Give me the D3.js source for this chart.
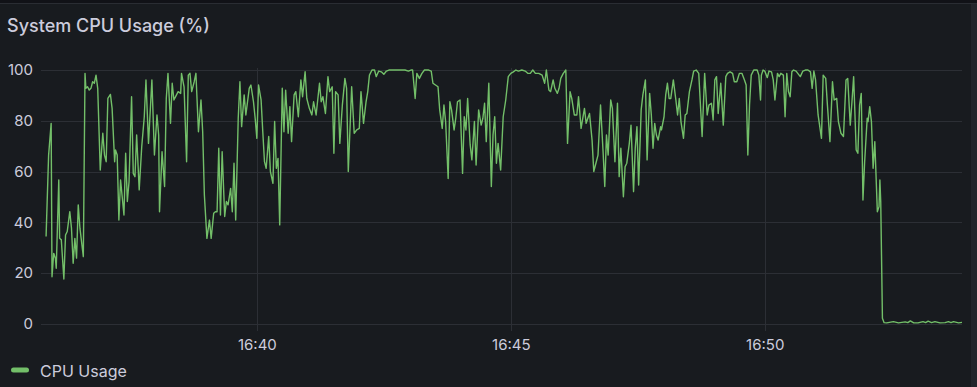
<!DOCTYPE html>
<meta charset="utf-8">
<script src="https://d3js.org/d3.v7.min.js"></script>
<style>
  body { margin: 0; background: #181b1f; overflow: hidden; }
  text { font-family: Inter, "Noto Sans", sans-serif; }
</style>
<div id="chart"></div>
<script>

// seconds after 16:35:00 for each sample, and the CPU value (%) at that moment
const secs = [51,54,57,58,60,62,63,66,67,69,72,74,76,79,81,83,85,87,89,91,95,97,98,100,102,104,106,108,110,112,
  115,118,120,122,124,127,129,132,133,135,137,139,143,145,147,149,152,154,156,158,161,164,167,169,172,176,179,182,184,185,
  188,191,193,195,198,200,202,204,207,210,211,214,217,219,221,223,226,228,231,234,236,238,241,244,246,249,251,253,255,257,
  259,262,264,266,269,271,273,275,278,280,282,285,287,291,293,296,298,300,302,305,307,309,311,314,316,319,321,323,325,327,
  330,332,334,337,339,341,344,346,349,352,354,357,359,362,365,367,370,374,376,378,381,384,386,389,391,393,396,398,401,404,
  406,408,412,415,418,421,423,426,429,431,433,436,439,441,444,447,450,453,456,459,463,467,475,479,482,484,487,489,492,495,
  498,503,506,508,511,514,516,519,521,523,526,528,530,533,535,537,540,543,545,547,549,552,554,557,559,562,565,567,569,571,
  574,577,579,581,583,585,588,591,594,597,600,603,606,609,613,617,620,623,626,629,633,637,640,642,645,647,650,652,655,657,
  659,662,665,667,670,672,675,678,680,683,685,687,689,691,693,696,698,700,703,706,709,711,713,715,718,720,723,726,728,730,
  733,735,737,740,742,745,747,749,751,754,756,759,761,764,766,768,770,772,774,777,778,781,783,785,787,789,792,795,797,799,
  801,804,806,808,811,814,816,819,822,826,829,832,834,837,839,841,843,845,848,851,854,856,859,862,864,867,870,873,876,878,
  880,882,884,887,891,893,895,896,898,900,903,905,908,910,912,915,917,919,922,924,926,928,930,932,934,937,939,942,945,948,
  951,954,956,958,960,963,967,969,972,974,977,980,982,985,987,990,993,996,998,1001,1003,1005,1008,1010,1012,1014,1016,1018,1021,1022,
  1024,1026,1028,1030,1033,1035,1036,1037,1039,1041,1044,1052,1058,1066,1069,1072,1076,1081,1087,1090,1093,1097,1101,1107,1113,1117,1120,1123,1129,1133];

const cpu = [34.4,66.5,79.0,18.6,27.8,25.9,21.9,56.7,33.7,33.1,17.7,35.0,36.4,44.2,37.7,23.9,33.7,25.9,46.9,37.7,26.5,98.7,92.8,93.4,92.1,92.8,95.4,94.8,98.0,92.8,
  60.6,75.1,66.5,63.9,88.8,90.4,84.9,63.9,68.5,66.5,40.9,56.7,42.9,67.2,48.2,56.0,89.5,59.3,58.0,74.4,52.8,69.8,81.6,96.1,71.1,96.1,66.5,82.3,74.4,44.2,
  67.8,54.1,88.8,98.7,79.0,94.8,88.2,89.5,91.5,90.8,98.7,93.4,63.9,98.0,98.7,91.5,95.4,98.7,75.7,88.2,75.7,50.8,33.7,40.9,33.7,43.6,44.2,44.2,69.2,42.9,
  67.8,42.3,48.2,46.9,53.4,44.2,63.3,40.9,81.0,95.4,77.7,90.2,82.3,92.8,94.1,87.5,81.0,73.1,94.1,88.2,75.7,63.9,61.3,73.8,60.0,55.4,79.7,61.3,65.2,39.0,
  92.8,75.7,92.1,75.1,85.6,71.8,90.2,91.5,81.6,96.1,89.5,99.3,88.8,84.9,82.3,87.5,82.3,94.8,87.5,89.5,82.9,97.4,91.5,93.4,67.2,91.5,90.2,71.1,86.2,96.7,
  92.8,60.0,93.4,75.1,76.4,77.0,91.5,79.0,87.5,91.5,98.0,100,100,97.4,99.6,99.3,98.3,99.6,100,100,100,100,100,99.6,100,100,88.8,98.7,96.7,98.7,
  100,100,99.6,94.8,94.1,93.4,84.3,77.0,86.2,79.7,57.3,87.5,84.3,76.4,81.0,87.5,88.2,59.3,81.6,76.4,88.8,70.5,64.6,79.7,62.6,84.3,78.3,81.0,86.9,71.8,
  94.8,54.1,74.4,81.6,63.3,71.1,60.6,81.6,88.2,97.4,98.7,99.3,100,99.6,100,99.6,98.7,98.7,100,98.7,98.7,98.0,94.8,100,92.1,91.5,96.1,92.8,90.8,92.8,
  96.7,98.7,100,71.1,91.5,88.8,82.3,82.3,89.5,77.0,81.0,84.9,79.0,81.0,82.9,72.4,60.0,62.6,66.5,86.2,67.8,54.1,74.4,66.5,88.2,84.9,63.9,86.9,58.0,69.2,
  50.1,61.9,63.3,71.1,78.3,52.1,69.2,77.7,54.7,84.3,90.2,96.1,64.6,90.8,82.3,69.2,79.0,74.4,72.4,77.7,76.4,81.6,90.2,94.8,88.8,88.8,96.1,88.2,82.3,88.8,
  79.7,73.1,82.3,82.9,91.5,96.1,99.6,100,98.7,73.8,98.7,82.3,86.2,86.9,80.3,96.1,97.4,82.9,94.8,78.3,97.4,98.7,99.3,98.7,95.4,95.4,98.7,98.7,96.1,94.1,
  66.5,86.2,98.0,100,100,98.0,88.2,98.0,100,99.6,97.0,99.6,99.3,96.1,88.2,98.7,97.4,98.7,98.0,81.6,98.7,91.5,89.5,99.3,100,99.6,98.7,97.4,99.6,100,
  100,99.3,92.8,99.6,96.1,82.3,73.1,98.0,96.7,86.2,71.8,95.4,88.2,88.8,79.7,75.1,73.8,96.1,96.7,78.3,87.5,97.4,68.5,67.2,86.2,90.8,48.8,63.9,81.0,79.7,
  85.6,79.7,61.3,71.8,44.2,46.2,56.7,48.2,2.2,0.5,0.4,0.9,0.4,0.8,0.5,1.2,0.4,0.4,0.9,0.5,1.1,0.5,0.9,0.4,0.5,0.9,0.5,0.9,0.4,0.6];

const xTicks = ["16:40", "16:45", "16:50"];
const yTicks = [0, 20, 40, 60, 80, 100];
const title = "System CPU Usage (%)";
const seriesName = "CPU Usage";

const width = 977, height = 387;
const plot = {left: 41, right: 962, top: 68, bottom: 330};

const day = new Date(2024, 0, 1);
const at = s => new Date(day.getTime() + (16 * 3600 + 35 * 60 + s) * 1000);
const parseTick = d3.timeParse("%H:%M");
const tickDate = t => { const p = parseTick(t); return new Date(day.getTime() + (p.getHours() * 3600 + p.getMinutes() * 60) * 1000); };

const data = secs.map((s, i) => ({t: at(s), v: cpu[i]}));

const svg = d3.select("#chart")
  .append("svg")
    .attr("width", width)
    .attr("height", height);

// panel frame
svg.append("rect").attr("width", width).attr("height", height).attr("fill", "#181b1f");
svg.append("rect").attr("width", width).attr("height", 3).attr("fill", "#111217");
svg.append("line").attr("x1", 0).attr("x2", width).attr("y1", 3.5).attr("y2", 3.5)
  .attr("stroke", "#2a2d33");
svg.append("rect").attr("x", 971).attr("y", 4).attr("width", 6).attr("height", height)
  .attr("fill", "#22252b");

svg.append("text")
  .attr("x", 7).attr("y", 32)
  .attr("fill", "#ccccdc")
  .attr("font-size", 18)
  .attr("font-weight", 500)
  .text(title);

const x = d3.scaleTime()
  .domain([at(45), at(1133)])
  .range([plot.left, plot.right]);

const y = d3.scaleLinear()
  .domain([-2.4, 100.8])
  .range([plot.bottom, plot.top]);

// grid
svg.append("g")
  .selectAll("line")
  .data(yTicks)
  .join("line")
    .attr("x1", plot.left).attr("x2", plot.right)
    .attr("y1", d => Math.round(y(d)) + 0.5).attr("y2", d => Math.round(y(d)) + 0.5)
    .attr("stroke", "#2c2f35");

svg.append("g")
  .selectAll("line")
  .data(xTicks)
  .join("line")
    .attr("x1", d => Math.round(x(tickDate(d))) + 0.5).attr("x2", d => Math.round(x(tickDate(d))) + 0.5)
    .attr("y1", plot.top).attr("y2", plot.bottom + 1)
    .attr("stroke", "#2c2f35");

// axes
const yAxis = svg.append("g")
  .attr("transform", `translate(${plot.left - 8},0)`)
  .call(d3.axisLeft(y).tickValues(yTicks).tickSize(0).tickPadding(0));
yAxis.select(".domain").remove();
yAxis.selectAll("text")
  .attr("fill", "#ccccdc")
  .attr("font-size", 15)
  .attr("font-family", "Inter, sans-serif");

const xAxis = svg.append("g")
  .attr("transform", `translate(0,${plot.bottom})`)
  .call(d3.axisBottom(x).tickValues(xTicks.map(tickDate)).tickFormat(d3.timeFormat("%H:%M")).tickSize(0).tickPadding(9));
xAxis.select(".domain").remove();
xAxis.selectAll("text")
  .attr("fill", "#ccccdc")
  .attr("font-size", 15)
  .attr("font-family", "Inter, sans-serif");

// series
const line = d3.line()
  .x(d => x(d.t))
  .y(d => y(d.v));

svg.append("path")
  .datum(data)
  .attr("fill", "none")
  .attr("stroke", "#73bf69")
  .attr("stroke-width", 1.4)
  .attr("stroke-linejoin", "round")
  .attr("d", line);

// legend
const legend = svg.append("g").attr("transform", "translate(11,370)");
legend.append("rect")
  .attr("x", 0).attr("y", -2.5)
  .attr("width", 18).attr("height", 5)
  .attr("rx", 2.5)
  .attr("fill", "#73bf69");
legend.append("text")
  .attr("x", 29).attr("y", 6.5)
  .attr("fill", "#ccccdc")
  .attr("font-size", 16)
  .text(seriesName);

</script>
